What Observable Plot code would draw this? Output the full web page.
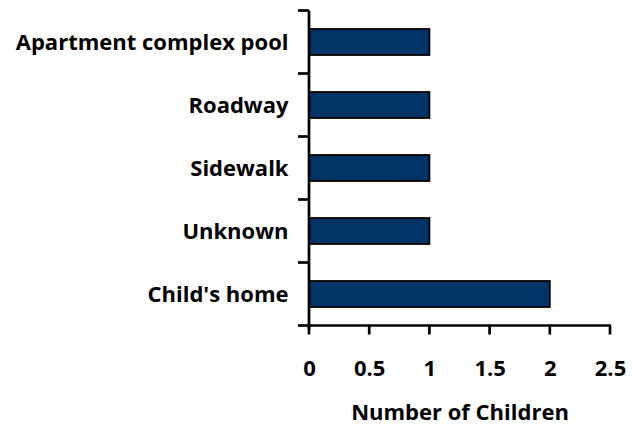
<!DOCTYPE html>
<html>
<head>
<meta charset="utf-8">
<script src="https://cdn.jsdelivr.net/npm/d3@7"></script>
<script src="https://cdn.jsdelivr.net/npm/@observablehq/plot@0.6"></script>
<style>
  html, body { margin: 0; padding: 0; background: #fff; }
  svg { display: block; }
</style>
</head>
<body>
<div id="chart"></div>
<script>
const categories = ["Apartment complex pool", "Roadway", "Sidewalk", "Unknown", "Child's home"];
const counts = [1, 1, 1, 1, 2];
const xTicks = [0, 0.5, 1, 1.5, 2, 2.5];
const xTitle = "Number of Children";

const data = categories.map((c, i) => ({category: c, value: counts[i]}));

// custom axis lines & boundary ticks derived from the scales
function axesFrame(index, scales, values, dims) {
  const y = scales.y, x = scales.x;
  const bw = typeof y.bandwidth === "function" ? y.bandwidth() : y.bandwidth;
  const step = y(categories[1]) - y(categories[0]);
  const gap = (step - bw) / 2;
  const x0 = x(0), x1 = x(xTicks[xTicks.length - 1]);
  const bounds = categories.map(c => y(c) - gap);
  bounds.push(y(categories[categories.length - 1]) + bw + gap);
  const yBottom = bounds[bounds.length - 1];
  const g = d3.create("svg:g").attr("stroke", "#000").attr("stroke-width", 2.7).attr("fill", "none");
  g.append("line").attr("x1", x0).attr("x2", x0).attr("y1", bounds[0]).attr("y2", yBottom + 4);
  for (const b of bounds) {
    g.append("line").attr("x1", x0 - 11).attr("x2", x0).attr("y1", b).attr("y2", b);
  }
  g.append("line").attr("x1", x0).attr("x2", x1 + 1).attr("y1", yBottom).attr("y2", yBottom);
  for (const t of xTicks) {
    g.append("line").attr("x1", x(t)).attr("x2", x(t)).attr("y1", yBottom).attr("y2", yBottom + 9);
  }
  return g.node();
}

const chart = Plot.plot({
  width: 633,
  height: 427,
  marginTop: 11,
  marginBottom: 101,
  marginLeft: 309,
  marginRight: 23,
  style: {fontFamily: "'Open Sans', sans-serif", fontSize: "22px", fontWeight: "bold", color: "#000", background: "#fff"},
  x: {domain: [0, 2.5]},
  y: {domain: categories, paddingInner: 0.58, paddingOuter: 0.29},
  marks: [
    Plot.barX(data, {x: "value", y: "category", fill: "#003366", stroke: "#000", strokeWidth: 1.8}),
    axesFrame,
    Plot.axisY({tickSize: 0, tickPadding: 21, label: null, fontSize: 22, fontWeight: "bold"}),
    Plot.axisX({ticks: xTicks, tickSize: 0, tickPadding: 34, label: null, fontSize: 22, fontWeight: "bold", tickFormat: d => String(d)}),
    Plot.text([xTitle], {frameAnchor: "bottom", lineAnchor: "top", dy: 78, text: d => d, fontSize: 22, fontWeight: "bold", fill: "#000"})
  ]
});
document.getElementById("chart").append(chart);
</script>
</body>
</html>
